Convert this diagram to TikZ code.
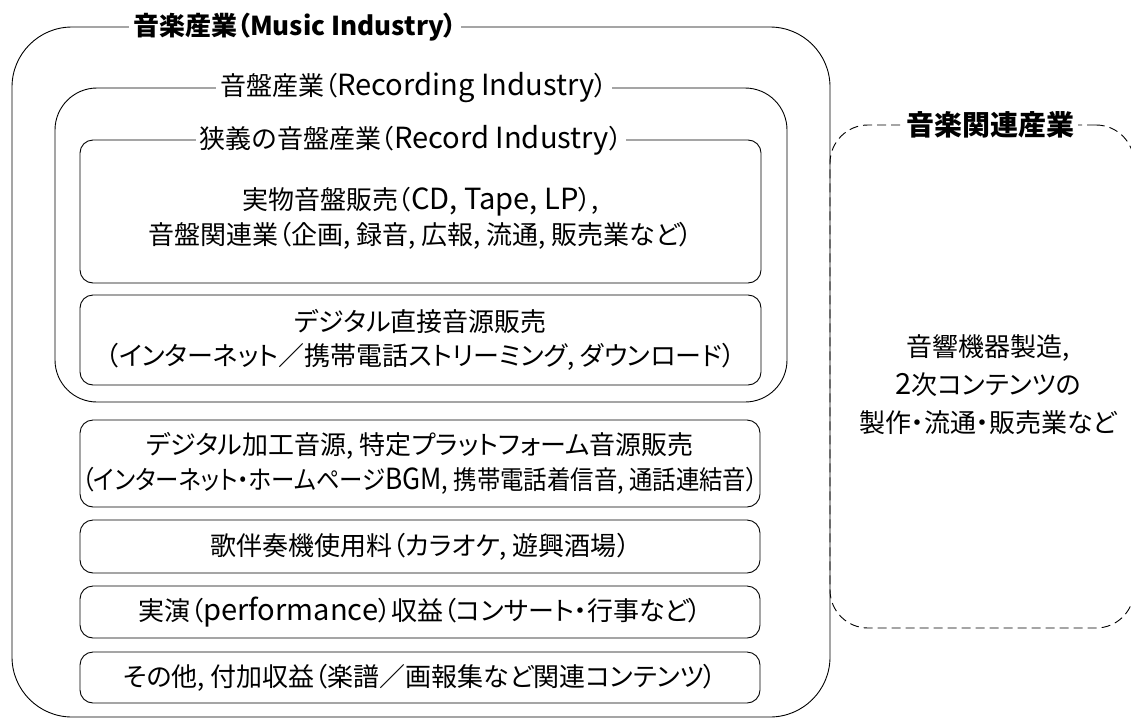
\documentclass[tikz,border=0pt]{standalone}
\usepackage{fontspec}
\setmainfont{Noto Sans CJK JP}[RawFeature=+palt]
\newfontfamily\lat{Noto Sans CJK JP}[Scale=1.12]
\begin{document}
\begin{tikzpicture}[x=1pt,y=-1pt,
  frame/.style={draw, line width=0.9pt, inner sep=0pt, outer sep=0pt},
  dashframe/.style={frame, dash pattern=on 9pt off 5pt},
  boxtitle/.style={fill=white, inner sep=4pt, font=\fontsize{26}{30}\selectfont},
  bigtitle/.style={fill=white, inner sep=4pt, font=\fontsize{26}{30}\selectfont\bfseries},
  txt/.style={align=center, inner sep=0pt, font=\fontsize{26}{35}\selectfont}]
\useasboundingbox (0,0) rectangle (1131,720);
\clip (0,0) rectangle (1131,720);
% related industry (dashed)
\node[dashframe, rounded corners=38pt, minimum width=304pt, minimum height=503pt] (related) at (982,376.5) {};
\node[bigtitle, font=\fontsize{28}{30}\selectfont\bfseries] (relatedt) at (990,125) {音楽関連産業};
\node[txt, font=\fontsize{26}{38}\selectfont] (relatedx) at (988,385) {音響機器製造,\\{\lat 2}次コンテンツの\\製作・流通・販売業など};
% music industry
\node[frame, rounded corners=60pt, minimum width=818pt, minimum height=690pt] (music) at (421,372) {};
\node[bigtitle] (musict) at (295,27) {音楽産業（Music Industry）};
% recording industry
\node[frame, rounded corners=42pt, minimum width=732pt, minimum height=314pt] (recording) at (421,245) {};
\node[boxtitle] (recordingt) at (414,88) {音盤産業（{\lat Recording Industry}）};
% record industry
\node[frame, rounded corners=13pt, minimum width=681pt, minimum height=143pt] (record) at (420.5,211.5) {};
\node[boxtitle] (recordt) at (411,140) {狭義の音盤産業（{\lat Record Industry}）};
\node[txt] (recordx) at (420.5,218) {実物音盤販売（{\lat CD, Tape, LP}）,\\音盤関連業（企画, 録音, 広報, 流通, 販売業など）};
% digital direct
\node[frame, rounded corners=13pt, minimum width=681pt, minimum height=90pt, align=center, font=\fontsize{26}{34}\selectfont] (direct) at (420.5,340) {デジタル直接音源販売\\（インターネット／携帯電話ストリーミング, ダウンロード）};
% lower boxes
\node[frame, rounded corners=13pt, minimum width=680pt, minimum height=87pt, align=center, font=\fontsize{26}{35}\selectfont] (processed) at (420,463.5) {デジタル加工音源, 特定プラットフォーム音源販売\\\scalebox{0.9}[1]{（インターネット・ホームページ{\lat BGM}, 携帯電話着信音, 通話連結音）}};
\node[frame, rounded corners=13pt, minimum width=680pt, minimum height=53pt, font=\fontsize{26}{28}\selectfont] (karaoke) at (420,546.5) {歌伴奏機使用料（カラオケ, 遊興酒場）};
\node[frame, rounded corners=13pt, minimum width=680pt, minimum height=52pt, font=\fontsize{26}{28}\selectfont] (live) at (420,612) {実演（{\lat performance}）収益（コンサート・行事など）};
\node[frame, rounded corners=13pt, minimum width=680pt, minimum height=51pt, font=\fontsize{26}{28}\selectfont] (other) at (420,677.5) {その他, 付加収益（楽譜／画報集など関連コンテンツ）};
\end{tikzpicture}
\end{document}
